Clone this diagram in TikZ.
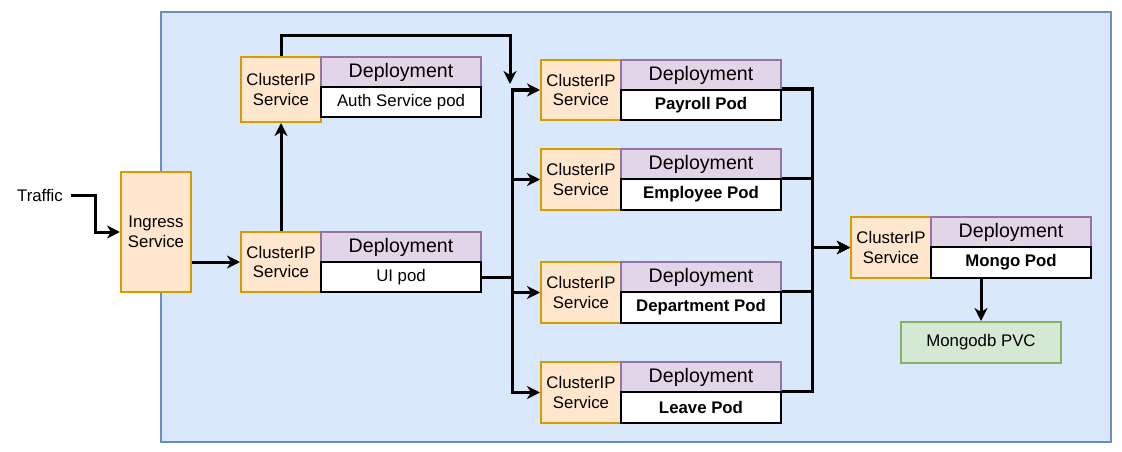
\documentclass[tikz,border=0pt]{standalone}
\usepackage{fontspec}
\setmainfont{Liberation Sans}
\usetikzlibrary{arrows.meta}
\definecolor{clusterfill}{HTML}{DAE8FC}
\definecolor{clusterline}{HTML}{6C8EBF}
\definecolor{svcfill}{HTML}{FFE6CC}
\definecolor{svcline}{HTML}{D79B00}
\definecolor{depfill}{HTML}{E1D5E7}
\definecolor{depline}{HTML}{9673A6}
\definecolor{pvcfill}{HTML}{D5E8D4}
\definecolor{pvcline}{HTML}{82B366}

\begin{document}
\begin{tikzpicture}
    [x=1pt, y=-1pt,
     base/.style={rectangle, anchor=north west, inner sep=0pt, align=center, line width=2pt},
     servizio/.style={base, draw=svcline, fill=svcfill, minimum width=80pt, minimum height=61pt, font=\fontsize{16.8}{19.5}\selectfont},
     deploy/.style={base, draw=depline, fill=depfill, minimum width=160pt, minimum height=30pt, font=\fontsize{19.6}{22}\selectfont},
     pod/.style={base, draw=black, fill=white, minimum width=160pt, minimum height=30pt, font=\fontsize{16.8}{19.5}\selectfont},
     freccia/.style={line width=3pt, -{Stealth[length=13pt,width=13pt,inset=4pt]}}]
    \fill[white] (0,0) rectangle (1122,452);
    \useasboundingbox (0,0) rectangle (1122,452);

    \node[base, draw=clusterline, fill=clusterfill, minimum width=950pt, minimum height=430pt] (cluster) at (160,11) {};

    \node[font=\fontsize{16.8}{19.5}\selectfont, inner sep=8pt] (traffic) at (40,195) {Traffic};
    \node[servizio, minimum width=70pt, minimum height=120pt] (ingress) at (120,171) {Ingress\\Service};

    % auth + ui
    \node[servizio, minimum height=65pt] (svcauth) at (240,56) {ClusterIP\\Service};
    \node[deploy] (depauth) at (320,56) {Deployment};
    \node[pod] (podauth) at (320,86) {Auth Service pod};

    \node[servizio, minimum height=60pt] (svcui) at (240,231) {ClusterIP\\Service};
    \node[deploy] (depui) at (320,231) {Deployment};
    \node[pod] (podui) at (320,261) {UI pod};

    % backend pods
    \node[servizio, minimum height=60pt] (svcpay) at (540,59) {ClusterIP\\Service};
    \node[deploy] (deppay) at (620,59) {Deployment};
    \node[pod, font=\fontsize{16.8}{19.5}\selectfont\bfseries] (podpay) at (620,89) {Payroll Pod};

    \node[servizio] (svcemp) at (540,148) {ClusterIP\\Service};
    \node[deploy] (depemp) at (620,148) {Deployment};
    \node[pod, minimum height=31pt, font=\fontsize{16.8}{19.5}\selectfont\bfseries] (podemp) at (620,178) {Employee Pod};

    \node[servizio] (svcdep) at (540,261) {ClusterIP\\Service};
    \node[deploy] (depdep) at (620,261) {Deployment};
    \node[pod, minimum height=31pt, font=\fontsize{16.8}{19.5}\selectfont\bfseries] (poddep) at (620,291) {Department Pod};

    \node[servizio] (svcleave) at (540,361) {ClusterIP\\Service};
    \node[deploy] (depleave) at (620,361) {Deployment};
    \node[pod, minimum height=31pt, font=\fontsize{16.8}{19.5}\selectfont\bfseries] (podleave) at (620,391) {Leave Pod};

    % mongo
    \node[servizio] (svcmongo) at (850,216) {ClusterIP\\Service};
    \node[deploy] (depmongo) at (930,216) {Deployment};
    \node[pod, minimum height=31pt, font=\fontsize{16.8}{19.5}\selectfont\bfseries] (podmongo) at (930,246) {Mongo Pod};
    \node[base, draw=pvcline, fill=pvcfill, minimum width=160pt, minimum height=41pt, font=\fontsize{16.8}{19.5}\selectfont] (pvc) at (900,321) {Mongodb PVC};

    \coordinate (snodo) at (510,84);

    \draw[freccia] (traffic.east) -- (95,195) |- (ingress.west);
    \draw[freccia] (ingress.east |- svcui) -- (svcui.west);
    \draw[freccia] (svcui.north) -- (svcauth.south);
    \draw[freccia] (svcauth.north) |- (510,36) -- (snodo);
    \foreach \s in {svcpay,svcemp,svcdep,svcleave}
        \draw[freccia] (podui.east) -- ++(30,0) |- (\s.west);
    \foreach \p in {podpay,podemp,poddep,podleave}
        \draw[freccia] (\p.north east) -- ++(30,0) |- (svcmongo.west);
    \draw[freccia] (pvc.north |- podmongo.south) -- (pvc.north);

\end{tikzpicture}
\end{document}
